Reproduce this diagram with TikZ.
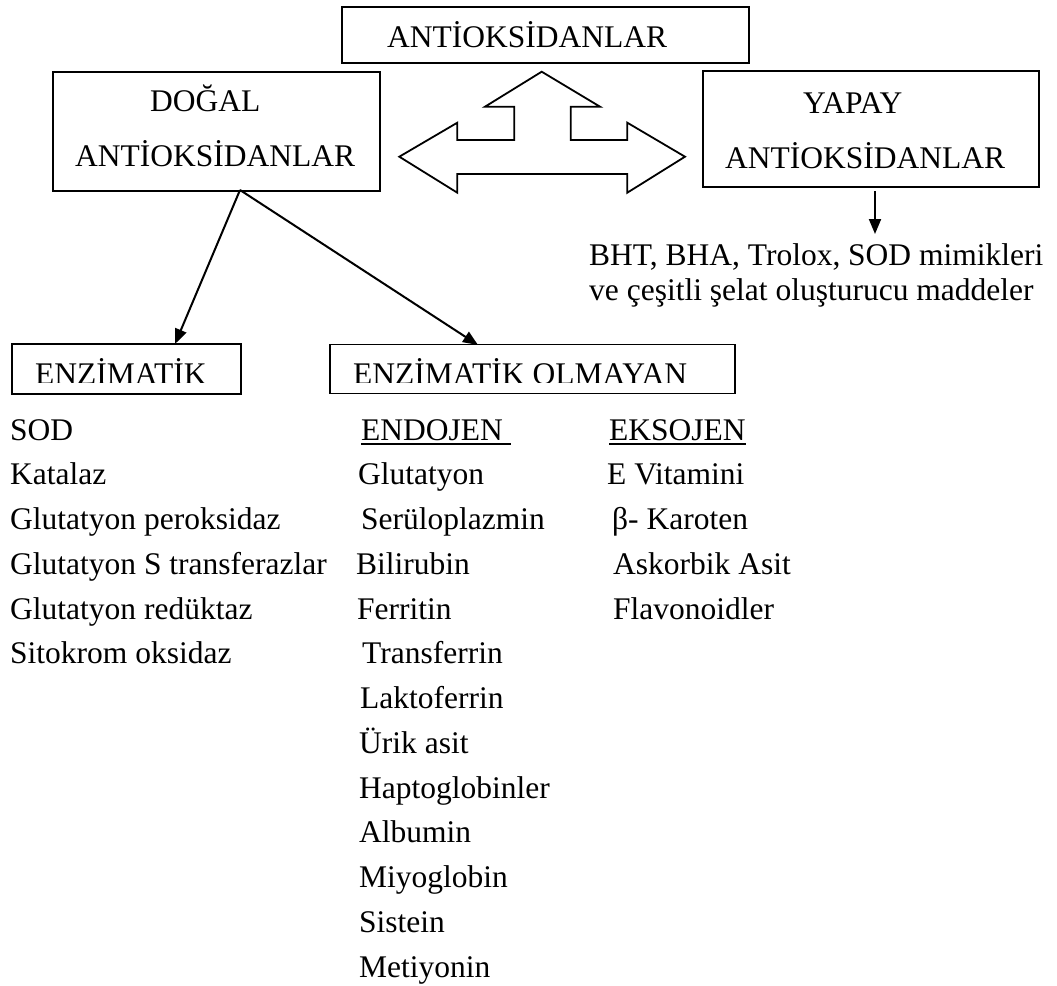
\documentclass[tikz,border=0pt]{standalone}
\usepackage{fontspec}
\setmainfont{Liberation Serif}
\usetikzlibrary{arrows.meta}
\newcommand{\cizgili}[1]{\setbox0\hbox{#1}\rlap{\rule[-4.5pt]{\wd0}{1.6pt}}\box0}

\begin{document}
\begin{tikzpicture}[x=1pt,y=-1pt,
  font=\fontsize{31.5}{55}\selectfont,
  kutu/.style={draw=black,line width=1.8pt,inner sep=0pt},
  yazi/.style={anchor=base west,inner sep=0pt},
  ok/.style={line width=2pt,-{Triangle[length=15pt,width=12pt]}}]
  \useasboundingbox (0,0) rectangle (1057,985);

  \node[kutu,minimum width=407,minimum height=56] (ana) at (545.5,35) {};
  \node[kutu,minimum width=327,minimum height=119] (dogal) at (216.5,131.5) {};
  \node[kutu,minimum width=336,minimum height=116] (yapay) at (871,129) {};
  \node[kutu,minimum width=228.5,minimum height=50] (enz) at (126.5,369) {};
  \node[kutu,minimum width=405,minimum height=49] (enzd) at (532.5,369) {};

  \node[yazi] (anaT) at (387,47) {ANTİOKSİDANLAR};
  \node[yazi] (dogalT1) at (150,111.7) {DOĞAL};
  \node[yazi] (dogalT2) at (75,166.7) {ANTİOKSİDANLAR};
  \node[yazi] (yapayT1) at (803,113) {YAPAY};
  \node[yazi] (yapayT2) at (725,168) {ANTİOKSİDANLAR};
  \begin{scope}
    \clip (12,344) rectangle (735,382.5);
    \node[yazi] (enzT) at (35,384) {ENZİMATİK};
    \node[yazi] (enzdT) at (353,384) {ENZİMATİK OLMAYAN};
  \end{scope}

  \draw[line width=1.8pt,line join=miter] (541.7,71.7) -- (600,106.7) -- (570.7,106.7)
    -- (570.7,140) -- (627.3,140) -- (627.3,122.7) -- (685,156.7) -- (627.3,192.7)
    -- (627.3,174) -- (457.3,174) -- (457.3,192.7) -- (399.3,156.7) -- (457.3,122.7)
    -- (457.3,140) -- (514.3,140) -- (514.3,106.7) -- (485,106.7) -- cycle;

  \coordinate (d0) at (240,190);
  \coordinate (e0) at (175,344);
  \coordinate (e1) at (478,345);
  \coordinate (y0) at (875,191);
  \coordinate (y1) at (875,234);
  \path [ok] (d0) edge (e0);
  \path [ok] (d0) edge (e1);
  \path [ok] (y0) edge (y1);

  \node[yazi] (bht1) at (589,265) {BHT, BHA, Trolox, SOD mimikleri};
  \node[yazi] (bht2) at (589,300) {ve çeşitli şelat oluşturucu maddeler};

  \foreach \t [count=\i from 0] in {SOD,Katalaz,Glutatyon peroksidaz,
      Glutatyon S transferazlar,Glutatyon redüktaz,Sitokrom oksidaz}
    \node[yazi] (enzL\i) at (10,440+44.75*\i) {\t};

  \foreach \x/\t [count=\i from 0] in {361/\cizgili{ENDOJEN\ },358/Glutatyon,
      361/Serüloplazmin,356/Bilirubin,357/Ferritin,362/Transferrin,
      360/Laktoferrin,359/Ürik asit,359/Haptoglobinler,359/Albumin,
      359/Miyoglobin,359/Sistein,359/Metiyonin}
    \node[yazi] (endo\i) at (\x,440+44.75*\i) {\t};

  \foreach \x/\t [count=\i from 0] in {609/\cizgili{EKSOJEN},607/E Vitamini,
      612/β- Karoten,613/Askorbik Asit,613/Flavonoidler}
    \node[yazi] (ekso\i) at (\x,440+44.75*\i) {\t};
\end{tikzpicture}
\end{document}
